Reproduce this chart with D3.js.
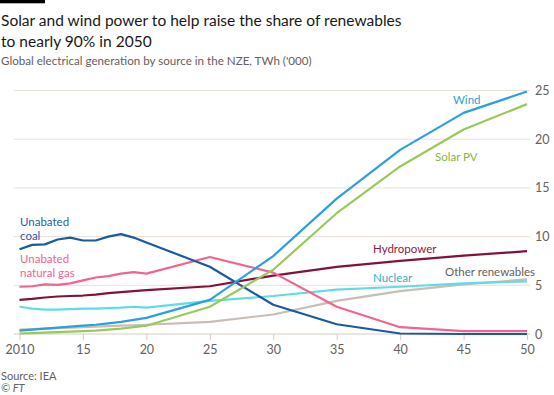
<!DOCTYPE html>
<html><head><meta charset="utf-8">
<script src="https://cdn.jsdelivr.net/npm/d3@7"></script>
<style>
html,body{margin:0;padding:0;background:#fff;}
svg{display:block;font-family:Lato,"Open Sans",sans-serif;}
</style></head>
<body>
<script>
const years = [2010,2011,2012,2013,2014,2015,2016,2017,2018,2019,2020,2025,2030,2035,2040,2045,2050];
const coal  = [8.7,9.15,9.2,9.7,9.9,9.6,9.6,10.0,10.25,9.9,9.4,6.9,3.0,1.0,0.05,0.0,0.0];
const gas   = [4.85,4.9,5.1,5.05,5.2,5.5,5.8,5.95,6.2,6.35,6.2,7.9,6.3,2.8,0.7,0.3,0.3];
const hydro = [3.5,3.6,3.75,3.85,3.9,3.95,4.05,4.2,4.3,4.4,4.5,4.9,6.0,6.9,7.5,8.05,8.5];
const nuclear = [2.8,2.6,2.5,2.5,2.55,2.6,2.6,2.65,2.7,2.8,2.7,3.4,3.9,4.55,4.85,5.2,5.4];
const wind  = [0.35,0.45,0.55,0.65,0.75,0.85,0.95,1.1,1.25,1.45,1.65,3.5,8.0,13.9,18.9,22.7,24.9];
const solar = [0.05,0.1,0.15,0.2,0.25,0.3,0.35,0.45,0.55,0.7,0.85,2.8,6.6,12.4,17.2,21.0,23.6];
const other = [0.45,0.5,0.55,0.6,0.65,0.7,0.75,0.8,0.85,0.9,0.95,1.25,2.0,3.4,4.4,5.1,5.6];
const xTicks = [2010,2015,2020,2025,2030,2035,2040,2045,2050];
const xTickLabels = ["2010","15","20","25","30","35","40","45","50"];
const yTicks = [0,5,10,15,20,25];

const series = [
  {name:"Other renewables", values: other, color:"#c9bdb6", text:"#66605c", label:["Other renewables"], lx:445, ly:276},
  {name:"Nuclear", values: nuclear, color:"#62dbe6", text:"#2fb3c0", label:["Nuclear"], lx:373, ly:282},
  {name:"Hydropower", values: hydro, color:"#850f3e", text:"#8b1a47", label:["Hydropower"], lx:373, ly:253},
  {name:"Unabated natural gas", values: gas, color:"#f2648f", text:"#f2648f", label:["Unabated","natural gas"], lx:20, ly:262.5},
  {name:"Unabated coal", values: coal, color:"#1a5a9e", text:"#1f5ea3", label:["Unabated","coal"], lx:20, ly:225.5},
  {name:"Solar PV", values: solar, color:"#99c95a", text:"#88b545", label:["Solar PV"], lx:435, ly:161},
  {name:"Wind", values: wind, color:"#2c9fe0", text:"#2c9fe0", label:["Wind"], lx:453, ly:104}
];

const W=554,H=395;
const svg=d3.select("body").append("svg").attr("width",W).attr("height",H);
const x=d3.scaleLinear().domain([2010,2050]).range([19.5,527]);
const y=d3.scaleLinear().domain([0,25]).range([334,90.5]);

svg.append("rect").attr("x",0).attr("y",0).attr("width",45).attr("height",3.3).attr("fill","#000");

function fitText(sel,target){
  const w=sel.node().getComputedTextLength();
  const fs=parseFloat(sel.attr("font-size"));
  sel.attr("font-size",fs*target/w);
}
const t1=svg.append("text").attr("x",1).attr("y",26).attr("font-size",17).attr("fill","#1a1817")
  .text("Solar and wind power to help raise the share of renewables");
fitText(t1,401);
const t2=svg.append("text").attr("x",1).attr("y",47).attr("font-size",t1.attr("font-size")).attr("fill","#1a1817")
  .text("to nearly 90% in 2050");
const st=svg.append("text").attr("x",1).attr("y",65).attr("font-size",12).attr("fill","#66605c")
  .text("Global electrical generation by source in the NZE, TWh ('000)");
fitText(st,311);

// grid
const g=svg.append("g");
g.selectAll("line.grid").data(yTicks).join("line")
  .attr("x1",14).attr("x2",530).attr("y1",d=>y(d)).attr("y2",d=>y(d))
  .attr("stroke",d=>d===0?"#d8ccc2":"#ecdfd6").attr("stroke-width",1);
g.selectAll("text.yl").data(yTicks).join("text")
  .attr("x",535).attr("y",d=>y(d)+4.5).attr("font-size",12.5).attr("fill","#66605c").text(d=>d);

// x axis ticks
const xa=svg.append("g").attr("transform","translate(0,334)")
  .call(d3.axisBottom(x).tickValues(xTicks).tickSize(6).tickFormat((d,i)=>xTickLabels[i]));
xa.select(".domain").remove();
xa.selectAll(".tick line").attr("stroke","#d8ccc2");
xa.selectAll(".tick text").attr("fill","#66605c").attr("font-size",12.5).attr("font-family","Lato,'Open Sans',sans-serif").attr("dy","0.9em");

const line=d3.line().x((d,i)=>x(years[i])).y(d=>y(d));
svg.append("g").selectAll("path").data(series).join("path")
  .attr("d",d=>line(d.values)).attr("fill","none").attr("stroke",d=>d.color)
  .attr("stroke-width",2.2).attr("stroke-linejoin","round");

series.forEach(s=>{
  s.label.forEach((l,i)=>{
    svg.append("text").attr("x",s.lx).attr("y",s.ly+i*14)
      .attr("font-size",11.5).attr("fill",s.text).text(l);
  });
});

svg.append("text").attr("x",1).attr("y",380).attr("font-size",11).attr("fill","#66605c").text("Source: IEA");
svg.append("text").attr("x",1).attr("y",392).attr("font-size",11).attr("fill","#66605c").attr("font-style","italic").text("© FT");
</script>
</body></html>
